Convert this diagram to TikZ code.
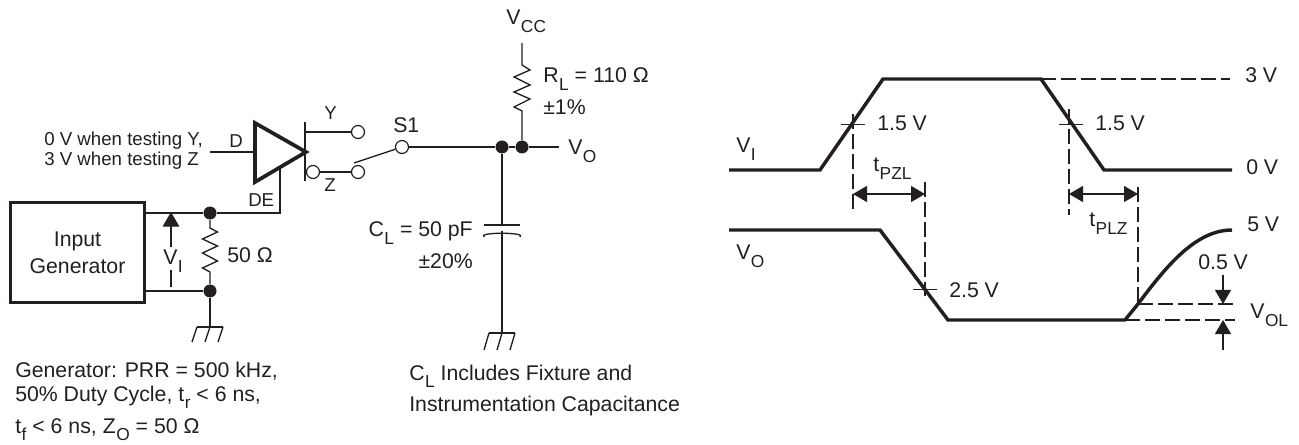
\documentclass[tikz,border=0pt]{standalone}
\usepackage{fontspec}
\setmainfont{Liberation Sans}
\usetikzlibrary{arrows.meta}
\definecolor{inkdark}{RGB}{35,31,32}
\newcommand{\lowtext}[1]{\kern0.4pt\raisebox{-5.5pt}{\fontsize{13}{13}\selectfont #1}}
\tikzset{
	wire/.style={color=inkdark,line width=1pt},
	heavy/.style={color=inkdark,line width=2.6pt,line join=miter},
	dashline/.style={color=inkdark,line width=0.8pt,dash pattern=on 11pt off 4pt},
	dimline/.style={color=inkdark,line width=0.9pt,>={Triangle[length=10.5pt,width=12pt]}},
	lbl/.style={anchor=base west,inner sep=0pt,color=inkdark,font=\fontsize{15.95}{18}\selectfont},
	lblr/.style={lbl,anchor=base east},
	lblsmall/.style={lbl,font=\fontsize{14}{16}\selectfont},
	dot/.style={circle,fill=inkdark,inner sep=0pt,minimum size=9.75pt},
	term/.style={circle,draw=inkdark,fill=white,line width=0.9pt,inner sep=0pt,minimum size=9.75pt},
}
\begin{document}
\begin{tikzpicture}[x=0.75pt,y=-0.75pt]
		\useasboundingbox (0,0) rectangle (1299,445);

		% generator and driver
		\node[draw=inkdark,line width=2.4pt,inner sep=0pt,minimum width=100pt,minimum height=75.5pt,align=center,color=inkdark,font=\fontsize{15.95}{20.25}\selectfont] (gen) at (77.5,252.5) {Input\\Generator};
		\coordinate (triA) at (255,123);
		\coordinate (triB) at (255,182);
		\coordinate (triC) at (306,152);
		\coordinate (dIn) at (210,152);
		\coordinate (dTri) at (255,152);
		\coordinate (deUp) at (280,169);
		\coordinate (deCorner) at (280,213);
		\coordinate (barTop) at (305,122);
		\coordinate (barBot) at (305,181);
		\coordinate (yOut) at (305,132);
		\node[dot] (dotA) at (210,213) {};
		\node[dot] (dotB) at (210,291) {};
		\node[term] (bubble) at (313,172) {};
		\node[term] (termY) at (358,132) {};
		\node[term] (termZ) at (358,172) {};
		\node[term] (termS) at (402,147) {};
		\coordinate (armEnd) at (354,163);
		\node[dot] (dotC) at (502,147) {};
		\node[dot] (dotD) at (522,147) {};
		\coordinate (voEnd) at (559,147);
		\coordinate (vccTop) at (522,43);
		\coordinate (plateTop) at (502,225);
		\coordinate (plateLow) at (502,231);
		\coordinate (gndA) at (210,327);
		\coordinate (gndB) at (502,333);

		\draw[heavy,line width=2.8pt] (triA) -- (triB) -- (triC) -- cycle;
		\draw[wire] (dIn) -- (dTri);
		\draw[wire] (gen.east |- dotA) -- (dotA) -- (deCorner) -- (deUp);
		\draw[wire] (gen.east |- dotB) -- (dotB);
		\draw[wire] (barTop) -- (barBot);
		\draw[wire] (yOut) -- (termY);
		\draw[wire] (bubble) -- (termZ);
		\draw[wire] (termS) -- (armEnd);
		\draw[wire] (termS) -- (dotC) -- (dotD) -- (voEnd);

		% input arrow with gap for its label
		\coordinate (viTip) at (171,212);
		\coordinate (viGap) at (171,247);
		\coordinate (viLow) at (171,270);
		\coordinate (viEnd) at (171,287);
		\draw[dimline,->,>={Triangle[length=11pt,width=12.5pt]}] (viGap) -- (viTip);
		\draw[dimline] (viLow) -- (viEnd);

		% resistors
		\draw[wire] (dotA) -- +(0,15) -- +(7.5,19) -- +(-7.5,26) -- +(7.5,33) -- +(-7.5,40) -- +(7.5,48) -- +(-7.5,55) -- +(0,59) -- (dotB);
		\draw[wire] (vccTop) -- +(0,22) -- +(8,27) -- +(-8,34) -- +(8,42) -- +(-8,49) -- +(8,56) -- +(-8,64) -- +(0,68) -- (dotD);

		% capacitor
		\draw[wire] (dotC) -- (plateTop);
		\draw[wire] (plateTop) +(-18,0) -- +(18,0);
		\draw[wire] (plateLow) +(-18,6) .. controls +(-8,-5) and +(8,-5) .. +(18,6);
		\draw[wire] (plateLow) -- (gndB);

		% grounds
		\draw[wire] (dotB) -- (gndA);
		\draw[wire] (gndA) +(-13,0) -- +(13,0);
		\draw[wire] (gndA) +(-13,0) -- +(-18,15);
		\draw[wire] (gndA) +(0,0) -- +(-5,15);
		\draw[wire] (gndA) +(13,0) -- +(8,15);
		\draw[wire] (gndB) +(-13,0) -- +(13,0);
		\draw[wire] (gndB) +(-13,0) -- +(-18,17);
		\draw[wire] (gndB) +(0,0) -- +(-5,17);
		\draw[wire] (gndB) +(13,0) -- +(8,17);

		% circuit labels
		\node[lblsmall] (lblZero) at (44,146) {0 V when testing Y,};
		\node[lblsmall] (lblThree) at (44,166) {3 V when testing Z};
		\node[lblsmall] (lblD) at (229,148) {D};
		\node[lblsmall] (lblDE) at (248,207) {DE};
		\node[lblsmall] (lblY) at (324,120) {Y};
		\node[lblsmall] (lblZ) at (324,192) {Z};
		\node[lbl] (lblS) at (393,133) {S1};
		\node[lbl] (lblVI) at (163,265) {V\lowtext{I}};
		\node[lbl] (lblFifty) at (227,263) {50 Ω};
		\node[lbl] (lblVcc) at (506,25) {V\lowtext{CC}};
		\node[lbl] (lblRl) at (543,83) {R\lowtext{L} = 110 Ω};
		\node[lbl] (lblRtol) at (543,115) {±1\%};
		\node[lbl] (lblVo) at (568,155) {V\lowtext{O}};
		\node[lblr] (lblCl) at (473,237) {C\lowtext{L} = 50 pF};
		\node[lblr] (lblCtol) at (473,269) {±20\%};
		\node[lbl] (lblGenA) at (15,377) {Generator: PRR = 500 kHz,};
		\node[lbl] (lblGenB) at (15,401) {50\% Duty Cycle, t\lowtext{r} < 6 ns,};
		\node[lbl] (lblGenC) at (15,433) {t\lowtext{f} < 6 ns, Z\lowtext{O} = 50 Ω};
		\node[lbl] (lblIncA) at (409,380) {C\lowtext{L} Includes Fixture and};
		\node[lbl] (lblIncB) at (409,411) {Instrumentation Capacitance};

		% waveforms
		\draw[heavy] (729,170) -- (820,170) -- (883,79) -- (1041,79) -- (1104,170) -- (1232,170);
		\draw[heavy] (729,230) -- (880,230) -- (948,320) -- (1125,320) -- (1138,304) .. controls (1165,268) and (1195,230) .. (1232,230);

		% guide lines and ticks
		\draw[dashline] (1041,79) -- (1230,79);
		\draw[dashline] (853,114) -- (853,212);
		\draw[dashline] (925,182) -- (925,296);
		\draw[dashline] (1069,109) -- (1069,215);
		\draw[dashline] (1138,187) -- (1138,304);
		\draw[dashline] (1138,304) -- (1233,304);
		\draw[dashline] (1125,320) -- (1235,320);
		\draw[wire,line width=0.7pt] (841,124) -- +(24,0);
		\draw[wire,line width=0.7pt] (913,289) -- +(24,0);
		\draw[wire,line width=0.7pt] (1059,124) -- +(24,0);

		% timing arrows
		\coordinate (pzlA) at (853,194);
		\coordinate (pzlB) at (925,194);
		\coordinate (plzA) at (1069,194);
		\coordinate (plzB) at (1138,194);
		\coordinate (olTop) at (1223,275);
		\coordinate (olHigh) at (1223,304);
		\coordinate (olLow) at (1223,320);
		\coordinate (olEnd) at (1223,350);
		\draw[dimline,<->] (pzlA) -- (pzlB);
		\draw[dimline,<->] (plzA) -- (plzB);
		\draw[dimline,->] (olTop) -- (olHigh);
		\draw[dimline,->] (olEnd) -- (olLow);

		% timing labels
		\node[lbl] (lblWaveVi) at (736,153) {V\lowtext{I}};
		\node[lbl] (lblWaveVo) at (736,260) {V\lowtext{O}};
		\node[lbl] (lblRise) at (877,131) {1.5 V};
		\node[lbl] (lblFall) at (1095,131) {1.5 V};
		\node[lbl] (lblMid) at (949,297) {2.5 V};
		\node[lbl] (lblPzl) at (873,172) {t\lowtext{PZL}};
		\node[lbl] (lblPlz) at (1089,227) {t\lowtext{PLZ}};
		\node[lbl] (lblThreeV) at (1245,83) {3 V};
		\node[lbl] (lblZeroV) at (1246,175) {0 V};
		\node[lbl] (lblFiveV) at (1247,232) {5 V};
		\node[lbl] (lblHalf) at (1198,270) {0.5 V};
		\node[lbl] (lblVol) at (1250,319) {V\lowtext{OL}};
\end{tikzpicture}
\end{document}
